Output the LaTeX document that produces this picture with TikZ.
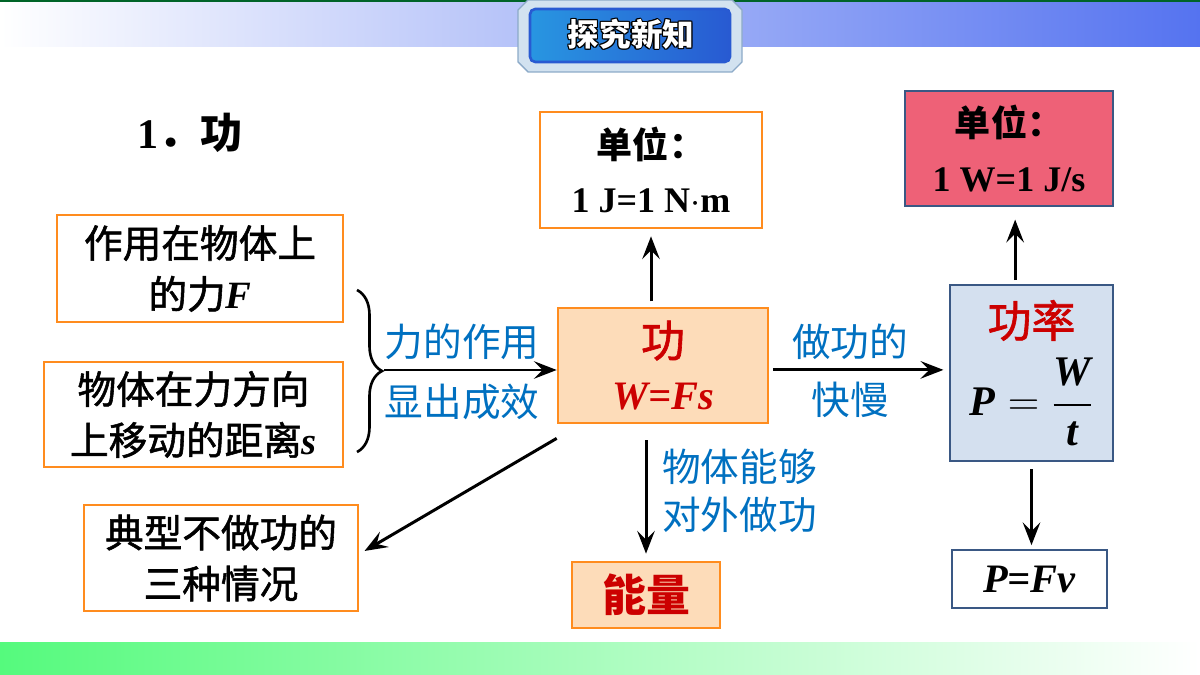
\documentclass[tikz,border=0pt]{standalone}
\usepackage{amsmath}
\usepackage{fontspec}
\setmainfont{Liberation Serif}
\newfontfamily\cjk{Noto Sans CJK SC}
\newfontfamily\cjkmed{Noto Sans CJK SC}[FakeBold=1.4]
\usetikzlibrary{arrows.meta, decorations.pathreplacing}

\definecolor{boxorange}{RGB}{255,140,30}
\definecolor{peach}{RGB}{253,220,185}
\definecolor{rosered}{RGB}{238,97,119}
\definecolor{paleblue}{RGB}{212,224,239}
\definecolor{navyline}{RGB}{58,88,132}
\definecolor{labelblue}{RGB}{0,112,192}
\definecolor{workred}{RGB}{204,0,0}
\definecolor{bannerblue}{RGB}{85,115,240}
\definecolor{bannergreen}{RGB}{0,100,40}
\definecolor{stripgreen}{RGB}{85,250,125}
\definecolor{framegrey}{RGB}{210,226,240}
\definecolor{frameline}{RGB}{140,170,200}
\definecolor{panelblue}{RGB}{40,150,225}
\definecolor{panelcyan}{RGB}{70,215,245}
\definecolor{paneldark}{RGB}{40,90,210}

\newcommand{\bi}[1]{{\rmfamily\bfseries\itshape #1}}

\tikzset{
  orangebox/.style={draw=boxorange, line width=1.5pt, align=center, inner sep=0pt},
  navybox/.style={draw=navyline, line width=1.5pt, align=center, inner sep=0pt},
  boxtext/.style={font=\cjkmed\fontsize{22}{29}\selectfont},
  bluetext/.style={text=labelblue, font=\cjk\fontsize{22}{28}\selectfont},
  link/.style={-{Stealth[length=13pt, width=10pt, inset=5pt]}, line width=1.7pt},
  badgetext/.style={font=\cjk\bfseries\fontsize{18}{20}\selectfont}
}

\begin{document}
\begin{tikzpicture}[x=0.02cm, y=-0.02cm]

  \useasboundingbox (0,0) rectangle (1200,675);

  % banner and bottom strip
  \fill[left color=white, right color=bannerblue] (0,2) rectangle (1200,47);
  \fill[bannergreen] (0,0) rectangle (1200,2);
  \fill[left color=stripgreen, right color=white] (0,642) rectangle (1200,675);

  % title badge
  \filldraw[fill=framegrey, draw=frameline, line width=0.8pt]
    (528,0) -- (732,0) -- (742,10) -- (742,62) -- (732,72) -- (528,72)
    -- (518,62) -- (518,10) -- cycle;
  \shade[left color=panelblue, middle color=panelcyan, right color=paneldark,
    rounded corners=3pt] (530,9) rectangle (730,62);
  \draw[paneldark, line width=1.5pt, rounded corners=3pt] (530,9) rectangle (730,62);
  \foreach \dx/\dy in {0.7/0, -0.7/0, 0/0.7, 0/-0.7, 0.5/0.5, -0.5/0.5, 0.5/-0.5, -0.5/-0.5}
    \node[badgetext, text=black] at ([shift={(\dx pt,\dy pt)}] 631,34) {探究新知};
  \node[badgetext, text=white] (badge) at (631,34) {探究新知};

  \node[font=\bfseries\fontsize{24}{28}\selectfont] (title) at (190,133) {1{\cjk ．功}};

  % boxes
  \node[orangebox, boxtext, minimum width=5.72cm, minimum height=2.14cm] (force)
    at (200,268.5) {作用在物体上\\的力\bi{F}};
  \node[orangebox, boxtext, minimum width=5.98cm, minimum height=2.1cm] (distance)
    at (193.5,414.5) {物体在力方向\\上移动的距离\bi{s}};
  \node[orangebox, boxtext, minimum width=5.48cm, minimum height=2.12cm] (nowork)
    at (221,558) {典型不做功的\\三种情况};
  \node[orangebox, fill=peach, minimum width=4.2cm, minimum height=2.3cm,
    text=workred, font=\fontsize{23}{30}\selectfont] (work)
    at (663,365.5) {{\cjkmed\fontsize{25}{30}\selectfont 功}\\\bi{W=Fs}};
  \node[orangebox, fill=white, minimum width=4.44cm, minimum height=2.32cm,
    font=\bfseries\fontsize{20.5}{31}\selectfont] (unit)
    at (651,170) {{\cjk 单位：}\\1 J=1 N$\cdot$m};
  \node[orangebox, fill=peach, minimum width=2.96cm, minimum height=1.32cm,
    text=workred, font=\cjk\bfseries\fontsize{25}{30}\selectfont] (energy)
    at (646,595) {能量};
  \node[navybox, fill=paleblue, minimum width=3.26cm, minimum height=3.52cm,
    font=\fontsize{24}{30}\selectfont] (power)
    at (1031.5,373) {{\cjkmed\color{workred}\fontsize{25}{30}\selectfont 功率}\\[9pt]
    $\text{\bi{P}}=\dfrac{\text{\bi{W}}}{\text{\bi{t}}}$};
  \node[navybox, fill=rosered, minimum width=4.16cm, minimum height=2.3cm,
    font=\bfseries\fontsize{20.5}{31}\selectfont] (powerunit)
    at (1009,148.5) {{\cjk 单位：}\\1 W=1 J/s};
  \node[navybox, fill=white, minimum width=3.1cm, minimum height=1.16cm,
    font=\fontsize{23}{28}\selectfont] (pfv)
    at (1029.5,579) {\bi{P=Fv}};

  % labels
  \node[bluetext] (effectA) at (462,342) {力的作用};
  \node[bluetext] (effectB) at (462,402) {显出成效};
  \node[bluetext] (rateA) at (850,342) {做功的};
  \node[bluetext] (rateB) at (850,400) {快慢};
  \node[bluetext, anchor=west, align=left, font=\cjk\fontsize{22}{27}\selectfont]
    (ability) at (656,491) {物体能够\\对外做功};

  % brace and arrows
  \draw[line width=1.5pt, decorate, decoration={brace, amplitude=0.5cm}]
    (357,290) -- (357,452);
  \coordinate (bracetip) at (384,370);
  \draw[link] (bracetip) -- (bracetip -| work.west);
  \draw[link, shorten <=3pt, shorten >=4pt] (work.north -| unit.south) -- (unit.south);
  \draw[link, shorten <=2pt, shorten >=3pt] ([yshift=-2.5pt]work.east) -- ([yshift=-2.5pt]work.east -| power.west);
  \draw[link, shorten <=9pt, shorten >=4pt] (work.south -| energy.north) -- (energy.north);
  \draw[link] ([yshift=-8pt]work.south west) -- ([shift={(3pt,4pt)}]nowork.east);
  \draw[link, shorten <=2pt, shorten >=7pt] ([xshift=3.5pt]power.north -| powerunit.south) -- ([xshift=3.5pt]powerunit.south);
  \draw[link, shorten <=4pt, shorten >=2pt] (power.south) -- (power.south |- pfv.north);

\end{tikzpicture}
\end{document}
